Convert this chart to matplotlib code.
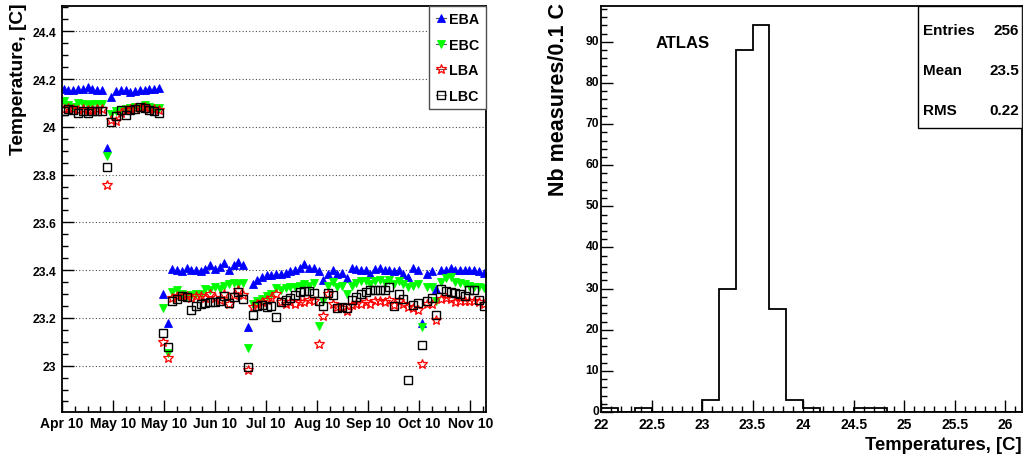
import matplotlib
matplotlib.use("Agg")
import matplotlib.pyplot as plt
from matplotlib.lines import Line2D
from matplotlib.ticker import MultipleLocator, FormatStrFormatter, FixedLocator, FixedFormatter
from matplotlib.transforms import ScaledTranslation
import numpy as np

plt.rcParams['font.family'] = ['Liberation Sans', 'DejaVu Sans']
plt.rcParams['font.weight'] = 'bold'

# ---------------- data: left panel (days since start of axis) ----------------
days = [1.0, 3.8, 6.6, 9.4, 12.2, 15.0, 17.8, 20.6, 23.4, 26.2, 29.0, 31.8, 34.6, 37.4,
        40.2, 43.0, 45.8, 48.6, 51.4, 54.2, 57.0,
        59.4, 62.2, 64.9, 67.7, 70.5, 73.3, 76.0, 78.8, 81.6, 84.3, 87.1, 89.9, 92.6, 95.4,
        98.2, 100.9, 103.7, 106.5, 109.3, 112.0, 114.8, 117.6, 120.3, 123.1, 125.9, 128.7,
        131.4, 134.2, 137.0, 139.7, 142.5, 145.3, 148.0, 150.8, 153.6, 156.4, 159.1, 161.9,
        164.7, 167.4, 170.2, 173.0, 175.7, 178.5, 181.3, 184.1, 186.8, 189.6, 192.4, 195.1,
        197.9, 200.7, 203.4, 206.2, 209.0, 211.8, 214.5, 217.3, 220.1, 222.8, 225.6, 228.4,
        231.1, 233.9, 236.7, 239.5, 242.2, 245.0, 247.8]

eba = [24.160, 24.155, 24.155, 24.160, 24.160, 24.165, 24.160, 24.155, 24.155, 23.910,
       24.125, 24.150, 24.155, 24.155, 24.145, 24.150, 24.155, 24.155, 24.160, 24.160, 24.162,
       23.300, 23.180, 23.405, 23.400, 23.395, 23.410, 23.400, 23.400, 23.395, 23.405,
       23.420, 23.405, 23.415, 23.430, 23.400, 23.420, 23.435, 23.420, 23.160, 23.340,
       23.360, 23.370, 23.380, 23.380, 23.385, 23.385, 23.390, 23.395, 23.400, 23.410,
       23.425, 23.410, 23.410, 23.395, 23.360, 23.385, 23.400, 23.385, 23.390, 23.365,
       23.410, 23.405, 23.400, 23.400, 23.385, 23.405, 23.410, 23.400, 23.400, 23.395,
       23.400, 23.385, 23.370, 23.410, 23.400, 23.180, 23.385, 23.395, 23.320, 23.400,
       23.400, 23.410, 23.400, 23.400, 23.400, 23.400, 23.400, 23.395, 23.390]

ebc = [24.110, 24.090, 24.085, 24.100, 24.095, 24.090, 24.095, 24.095, 24.095, 23.880,
       24.055, 24.065, 24.070, 24.075, 24.080, 24.085, 24.085, 24.090, 24.085, 24.080, 24.080,
       23.240, 23.055, 23.310, 23.315, 23.300, 23.290, 23.295, 23.300, 23.300, 23.320,
       23.315, 23.330, 23.320, 23.335, 23.340, 23.345, 23.340, 23.345, 23.075, 23.260,
       23.270, 23.280, 23.290, 23.300, 23.325, 23.315, 23.325, 23.330, 23.330, 23.335,
       23.340, 23.335, 23.345, 23.165, 23.270, 23.335, 23.350, 23.330, 23.335, 23.300,
       23.335, 23.345, 23.355, 23.355, 23.340, 23.355, 23.360, 23.345, 23.360, 23.340,
       23.355, 23.340, 23.330, 23.335, 23.340, 23.160, 23.330, 23.330, 23.270, 23.350,
       23.365, 23.370, 23.350, 23.345, 23.340, 23.335, 23.330, 23.330, 23.325]

lba = [24.075, 24.080, 24.075, 24.070, 24.075, 24.070, 24.070, 24.075, 24.075, 23.755,
       24.030, 24.025, 24.060, 24.070, 24.075, 24.080, 24.080, 24.085, 24.075, 24.075, 24.070,
       23.100, 23.033, 23.285, 23.290, 23.290, 23.290, 23.285, 23.290, 23.290, 23.285,
       23.300, 23.285, 23.275, 23.300, 23.260, 23.295, 23.315, 23.295, 22.980, 23.245,
       23.260, 23.265, 23.275, 23.285, 23.300, 23.265, 23.260, 23.265, 23.260, 23.265,
       23.265, 23.275, 23.270, 23.090, 23.210, 23.300, 23.260, 23.245, 23.240, 23.230,
       23.255, 23.260, 23.260, 23.265, 23.260, 23.270, 23.270, 23.265, 23.275, 23.255,
       23.270, 23.260, 23.245, 23.240, 23.235, 23.005, 23.260, 23.260, 23.190, 23.280,
       23.285, 23.280, 23.265, 23.270, 23.270, 23.270, 23.270, 23.265, 23.260]

lbc = [24.065, 24.075, 24.070, 24.060, 24.065, 24.060, 24.065, 24.065, 24.065, 23.830,
       24.020, 24.045, 24.070, 24.050, 24.070, 24.075, 24.085, 24.080, 24.070, 24.065, 24.060,
       23.135, 23.080, 23.270, 23.280, 23.290, 23.286, 23.235, 23.250, 23.258, 23.262,
       23.265, 23.268, 23.270, 23.290, 23.262, 23.286, 23.310, 23.280, 22.996, 23.214,
       23.250, 23.252, 23.245, 23.250, 23.205, 23.266, 23.273, 23.284, 23.294, 23.308,
       23.312, 23.312, 23.303, 23.270, 23.250, 23.303, 23.294, 23.242, 23.245, 23.242,
       23.273, 23.287, 23.298, 23.308, 23.317, 23.315, 23.315, 23.317, 23.328, 23.248,
       23.298, 23.280, 22.940, 23.252, 23.263, 23.088, 23.270, 23.284, 23.214, 23.322,
       23.312, 23.310, 23.303, 23.298, 23.290, 23.317, 23.317, 23.275, 23.248]

date_tick_days = [0, 30, 60, 90, 120, 150, 180, 210, 240]
date_tick_labels = ["Apr 10", "May 10", "May 10", "Jun 10", "Jul 10",
                    "Aug 10", "Sep 10", "Oct 10", "Nov 10"]
series_names = ["EBA", "EBC", "LBA", "LBC"]

# ---------------- data: right panel histogram ----------------
hist_low = 22.0
hist_high = 26.1667
hist_counts = [1, 0, 1, 0, 0, 0, 3, 30, 88, 94, 25, 3, 1, 0, 0, 1, 1,
               0, 0, 0, 0, 0, 0, 0, 0]
stats_labels = ["Entries", "Mean", "RMS"]
stats_values = ["256", "23.5", "0.22"]

# ---------------- figure ----------------
W, H = 1029, 460
fig = plt.figure(figsize=(W / 100, H / 100), dpi=100)

def px_axes(l, t, r, b):
    return fig.add_axes([l / W, 1 - b / H, (r - l) / W, (b - t) / H])

ax1 = px_axes(62, 7, 486, 413)
ax2 = px_axes(601, 7, 1022, 413)

styles = [
    dict(marker='^', ms=5.5, mfc='#0000ff', mec='#0000ff', mew=0.6),
    dict(marker='v', ms=5.5, mfc='#00ff00', mec='#00ff00', mew=0.6),
    dict(marker='*', ms=7.5, mfc='none', mec='#ff0000', mew=0.9),
    dict(marker='s', ms=6.2, mfc='none', mec='black', mew=1.0),
]
for vals, st in zip([eba, ebc, lba, lbc], styles):
    ax1.plot(days, vals, linestyle='none', **st)

ax1.set_xlim(0, 249.2)
ax1.set_ylim(22.806, 24.506)
ax1.xaxis.set_major_locator(FixedLocator(date_tick_days))
ax1.xaxis.set_major_formatter(FixedFormatter(date_tick_labels))
ax1.xaxis.set_minor_locator(MultipleLocator(7.5))
ax1.yaxis.set_major_locator(MultipleLocator(0.2))
ax1.yaxis.set_minor_locator(MultipleLocator(0.05))
ax1.yaxis.set_major_formatter(FormatStrFormatter('%g'))
ax1.grid(axis='y', which='major', linestyle=(0, (1, 2)), color='0.3', lw=0.8)
ax1.set_axisbelow(True)

for ax in (ax1, ax2):
    ax.tick_params(which='both', direction='in', top=False, right=False)
    ax.tick_params(which='major', length=8.5, width=1.0)
    ax.tick_params(which='minor', length=4.3, width=1.0)
    for s in ax.spines.values():
        s.set_linewidth(1.3)

ax1.tick_params(axis='x', labelsize=10, pad=3)
ax1.tick_params(axis='y', labelsize=8.7, pad=4)

handles = []
for name, st in zip(series_names, styles):
    handles.append(Line2D([0], [0], color='0.35', lw=0.8, label=name, **st))
leg = ax1.legend(handles=handles, loc='upper right', bbox_to_anchor=(1.0, 1.0),
                 borderaxespad=0.0, fancybox=False, framealpha=1, edgecolor='0.3',
                 handlelength=0.7, handletextpad=0.25, labelspacing=0.8,
                 borderpad=0.45, prop={'weight': 'bold', 'size': 10.3})
leg.get_frame().set_linewidth(1.0)

# ---------------- histogram ----------------
edges = np.linspace(hist_low, hist_high, len(hist_counts) + 1)
ax2.stairs(hist_counts, edges, color='black', lw=1.3, baseline=0)
ax2.set_xlim(hist_low, hist_high)
ax2.set_ylim(0, 98.7)
ax2.xaxis.set_major_locator(MultipleLocator(0.5))
ax2.xaxis.set_minor_locator(MultipleLocator(0.1))
ax2.yaxis.set_major_locator(MultipleLocator(10))
ax2.yaxis.set_minor_locator(MultipleLocator(2))
ax2.xaxis.set_major_formatter(FormatStrFormatter('%g'))
ax2.yaxis.set_major_formatter(FormatStrFormatter('%g'))
ax2.tick_params(axis='x', labelsize=10, pad=3.5)
ax2.tick_params(axis='y', labelsize=8.7, pad=1.5)
# lift the y tick labels slightly (as in the reference, "0" sits above "22")
shift = ScaledTranslation(0, 2.5 / 100, fig.dpi_scale_trans)
for lab in ax2.get_yticklabels():
    lab.set_transform(lab.get_transform() + shift)

fig.text(683 / W, 1 - 43 / H, "ATLAS", ha='center', va='center', fontsize=12, weight='bold')

# stats box
bx0 = (918.3 - 601) / (1022 - 601)
by0 = (413 - 129.3) / (413 - 7)
ax2.add_patch(plt.Rectangle((bx0, by0), 1 - bx0, 1 - by0, transform=ax2.transAxes,
                            fill=True, facecolor='white', edgecolor='black', lw=1.0,
                            zorder=5))
row_y = [30.7, 71.0, 111.0]
for lab, val, yy in zip(stats_labels, stats_values, row_y):
    fig.text(923.5 / W, 1 - yy / H, lab, ha='left', va='center', fontsize=11,
             weight='bold', zorder=6)
    fig.text(1019 / W, 1 - yy / H, val, ha='right', va='center', fontsize=11,
             weight='bold', zorder=6)

# axis titles
fig.text(18.5 / W, 1 - 3 / H, "Temperature, [C]", rotation=90, ha='center', va='top',
         fontsize=13.8, weight='bold')
fig.text(558 / W, 1 - 3 / H, "Nb measures/0.1 C", rotation=90, ha='center', va='top',
         fontsize=15.5, weight='bold')
fig.text(1022 / W, 1 - 446 / H, "Temperatures, [C]", ha='right', va='center',
         fontsize=13.3, weight='bold')

fig.savefig("out.png", dpi=100)
